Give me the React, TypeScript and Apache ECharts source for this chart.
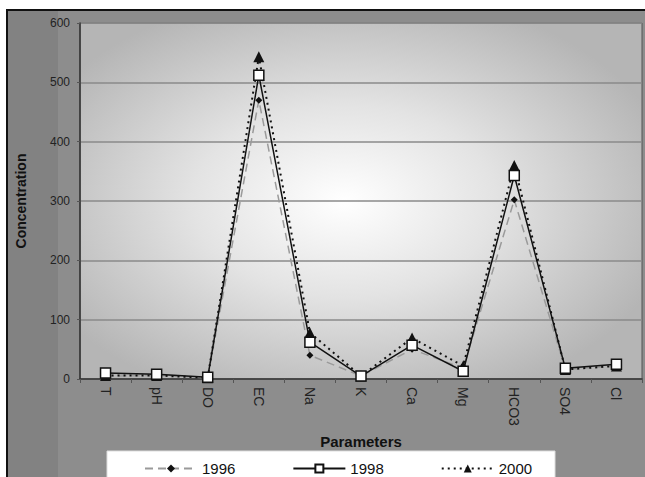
import React, { useEffect, useRef } from "react";
import * as echarts from "echarts";

const categories = ["T", "pH", "DO", "EC", "Na", "K", "Ca", "Mg", "HCO3", "SO4", "Cl"];
const s1996 = [5, 6, 2, 470, 40, 5, 50, 18, 302, 16, 22];
const s1998 = [10, 8, 3, 512, 62, 5, 57, 13, 343, 18, 25];
const s2000 = [6, 6, 2, 543, 78, 5, 69, 22, 360, 16, 22];
const yTicks = { min: 0, max: 600, interval: 100 };

const FONT = "'Liberation Sans', Arial, Helvetica, sans-serif";

export default function App() {
  const ref = useRef<HTMLDivElement>(null);
  useEffect(() => {
    if (!ref.current) return;
    const chart = echarts.init(ref.current, undefined, { renderer: "svg" });
    chart.setOption({
      animation: false,
      backgroundColor: "#ffffff",
      textStyle: { fontFamily: FONT },
      graphic: [
        {
          type: "rect",
          z: -10,
          silent: true,
          shape: { x: 7, y: 10, width: 660, height: 480 },
          style: {
            fill: "#8d8d8d",
            stroke: "#111111",
            lineWidth: 2,
          },
        },
        {
          type: "rect",
          z: -9,
          silent: true,
          shape: { x: 8, y: 11, width: 50, height: 470 },
          style: { fill: "#828282" },
        },
        {
          type: "rect",
          z: 1,
          silent: true,
          shape: { x: 107, y: 451, width: 448, height: 40 },
          style: { fill: "#ffffff", stroke: "#dddddd", lineWidth: 1 },
        },
      ],
      grid: {
        left: 80,
        top: 23,
        right: 3,
        bottom: 98,
        show: true,
        borderColor: "#555555",
        borderWidth: 1,
        backgroundColor: new echarts.graphic.RadialGradient(0.47, 0.5, 0.6, [
          { offset: 0, color: "#ffffff" },
          { offset: 0.45, color: "#e3e3e3" },
          { offset: 1, color: "#b5b5b5" },
        ]),
      },
      legend: {
        left: 139,
        top: 456,
        itemGap: 57,
        itemWidth: 52,
        itemHeight: 10,
        textStyle: { fontSize: 15, color: "#111", fontFamily: FONT },
        data: ["1996", "1998", "2000"],
      },
      xAxis: {
        type: "category",
        data: categories,
        boundaryGap: true,
        name: "Parameters",
        nameLocation: "middle",
        nameGap: 46,
        nameTextStyle: { fontSize: 15, fontWeight: "bold", color: "#111", fontFamily: FONT },
        axisLine: { lineStyle: { color: "#333", width: 1.5 } },
        axisTick: { show: true, length: 4, lineStyle: { color: "#555" } },
        axisLabel: { rotate: -90, margin: 8, fontSize: 14, color: "#222", fontFamily: FONT },
      },
      yAxis: {
        type: "value",
        min: yTicks.min,
        max: yTicks.max,
        interval: yTicks.interval,
        name: "Concentration",
        nameLocation: "middle",
        nameGap: 52,
        nameTextStyle: { fontSize: 14, fontWeight: "bold", color: "#111", fontFamily: FONT },
        axisLine: { show: true, lineStyle: { color: "#333", width: 1.5 } },
        axisTick: { show: true, length: 3, lineStyle: { color: "#555" } },
        axisLabel: { fontSize: 12, color: "#222", margin: 10, fontFamily: FONT },
        splitLine: { show: true, lineStyle: { color: "#8a8a8a", width: 1.5 } },
      },
      series: [
        {
          name: "1996",
          type: "line",
          data: s1996,
          symbol: "diamond",
          symbolSize: 7,
          itemStyle: { color: "#111" },
          lineStyle: { color: "#9a9a9a", width: 1.5, type: [8, 5] },
          z: 2,
        },
        {
          name: "1998",
          type: "line",
          data: s1998,
          symbol: "rect",
          symbolSize: 10,
          itemStyle: { color: "#ffffff", borderColor: "#111", borderWidth: 1.5 },
          lineStyle: { color: "#111", width: 1.5, type: "solid" },
          z: 4,
        },
        {
          name: "2000",
          type: "line",
          data: s2000,
          symbol: "triangle",
          symbolSize: 11,
          itemStyle: { color: "#111" },
          lineStyle: { color: "#111", width: 2, type: [2, 4] },
          z: 3,
        },
      ],
    });
    return () => chart.dispose();
  }, []);
  return <div ref={ref} style={{ width: 645, height: 477, position: "absolute", left: 0, top: 0 }} />;
}
